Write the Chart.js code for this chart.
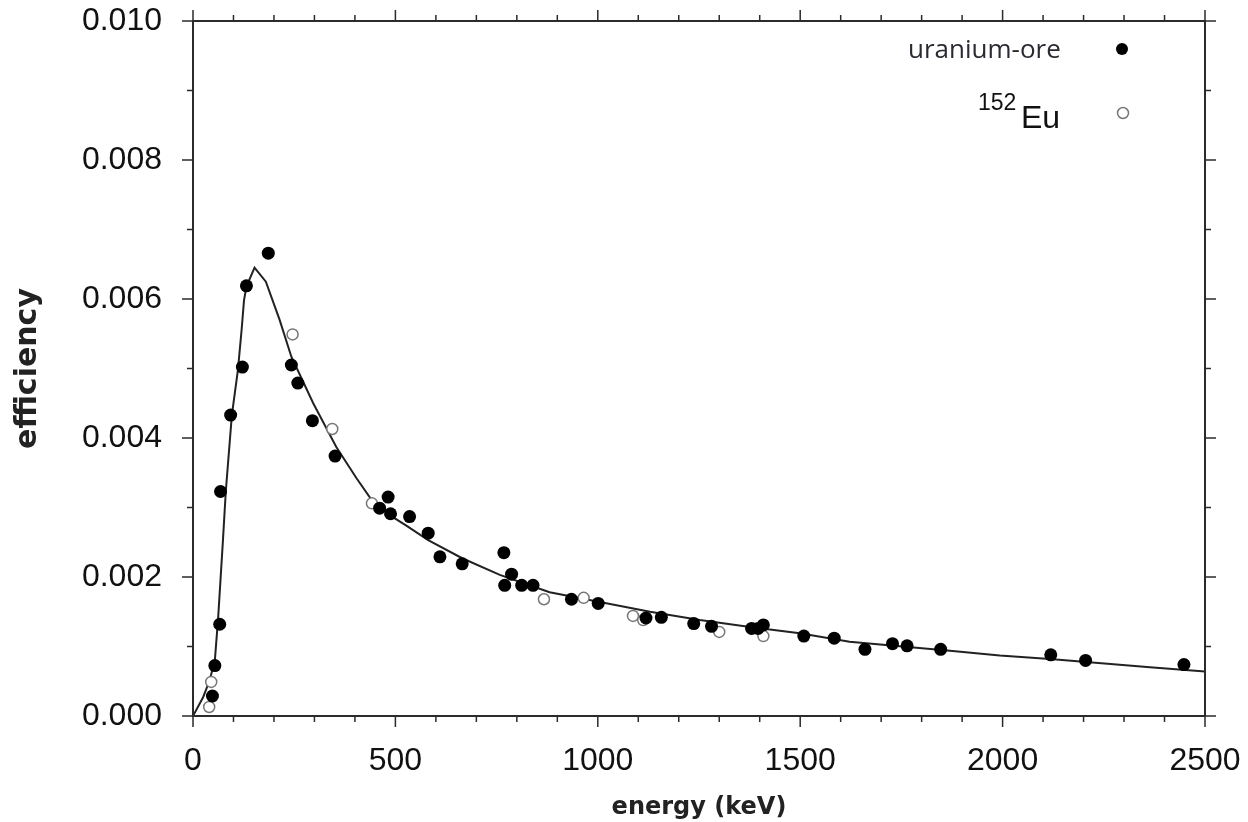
<!DOCTYPE html>
<html>
<head>
<meta charset="utf-8">
<title>efficiency vs energy</title>
<script src="https://cdn.jsdelivr.net/npm/chart.js@4.4.1/dist/chart.umd.min.js"></script>
<style>
  html, body { margin: 0; padding: 0; background: #fff; }
  #wrap { width: 1248px; height: 822px; }
</style>
</head>
<body>
<div id="wrap"><canvas id="effChart" width="1248" height="822"></canvas></div>
<script>
// uranium-ore lines (filled dots)
const uraniumEnergy = [48, 54, 66, 68, 93, 122, 132, 186, 243, 259, 295, 351, 461, 482, 488, 535, 581, 610, 665, 768,
  770, 787, 812, 840, 935, 1001, 1119, 1157, 1237, 1281, 1380, 1396, 1409, 1509, 1584, 1660, 1728, 1764, 1847, 2119,
  2205, 2448];
const uraniumEff = [0.000288, 0.000725, 0.00132, 0.00323, 0.00433, 0.00502, 0.00619, 0.00666, 0.00505, 0.00479,
  0.00425, 0.00374, 0.00299, 0.00315, 0.00291, 0.00287, 0.00263, 0.00229, 0.00219, 0.00235,
  0.00188, 0.00204, 0.00188, 0.00188, 0.00168, 0.00162, 0.00141, 0.00142, 0.00133, 0.00129,
  0.00126, 0.00126, 0.00131, 0.00115, 0.00112, 0.00096, 0.00104, 0.00101, 0.00096, 0.00088,
  0.00080, 0.00074];

// 152Eu lines (open circles)
const euEnergy = [40, 45, 246, 344, 442, 867, 965, 1087, 1112, 1300, 1409];
const euEff = [0.00013, 0.00049, 0.00549, 0.00413, 0.00306, 0.00168, 0.00170, 0.00144, 0.00138, 0.00121, 0.00115];

// fitted efficiency curve
const fitEnergy = [0, 25, 41, 54, 62, 74, 81, 96, 111, 120, 126, 132, 152, 180, 214, 243, 297, 354, 404, 441,
  486, 527, 581, 665, 758, 881, 1005, 1129, 1252, 1376, 1499, 1622, 1870, 1993, 2117, 2364, 2500];
const fitEff = [0, 0.00027, 0.00051, 0.0008, 0.0014, 0.00253, 0.00323, 0.00433, 0.00498, 0.00555,
  0.00598, 0.00618, 0.00645, 0.00625, 0.0057, 0.00517, 0.0045, 0.00387, 0.00342, 0.00311,
  0.00289, 0.00274, 0.00253, 0.00227, 0.00203, 0.00178, 0.00164, 0.0015, 0.00138, 0.00128,
  0.00119, 0.00107, 0.00094, 0.00087, 0.00082, 0.0007, 0.00064];

const xMax = 2500;
const yMax = 0.010;

function toPoints(xs, ys) {
  return xs.map((x, i) => ({ x, y: ys[i] }));
}

// box round the plot + outward ticks on all four sides
const frameTicks = {
  id: "frameTicks",
  afterDraw(chart) {
    const { ctx, chartArea: a, scales } = chart;
    const sx = scales.x, sy = scales.y;
    ctx.save();
    ctx.strokeStyle = "#2b2b2b";
    ctx.lineWidth = 2;
    ctx.strokeRect(a.left, a.top, a.right - a.left, a.bottom - a.top);
    ctx.lineWidth = 1.5;
    ctx.beginPath();
    for (let i = 0; i <= 25; i++) {
      const px = sx.getPixelForValue(i * 100);
      const len = i % 5 === 0 ? 11 : 6;
      ctx.moveTo(px, a.bottom); ctx.lineTo(px, a.bottom + len);
      ctx.moveTo(px, a.top); ctx.lineTo(px, a.top - len);
    }
    for (let i = 0; i <= 10; i++) {
      const py = sy.getPixelForValue(i * 0.001);
      const len = i % 2 === 0 ? 11 : 6;
      ctx.moveTo(a.left, py); ctx.lineTo(a.left - len, py);
      ctx.moveTo(a.right, py); ctx.lineTo(a.right + len, py);
    }
    ctx.stroke();
    ctx.restore();
  },
};

// legend in the top right corner, with 152 as superscript
const cornerLegend = {
  id: "cornerLegend",
  afterDraw(chart) {
    const { ctx } = chart;
    ctx.save();
    ctx.textBaseline = "alphabetic";
    ctx.textAlign = "left";
    ctx.fillStyle = "#2a2a33";
    ctx.font = "26px 'Open Sans'";
    ctx.fillText("uranium-ore", 908, 58);
    ctx.beginPath();
    ctx.arc(1122, 49, 6, 0, Math.PI * 2);
    ctx.fillStyle = "#000";
    ctx.fill();

    ctx.fillStyle = "#111";
    ctx.font = "23px 'Liberation Sans'";
    ctx.fillText("152", 978, 110);
    ctx.font = "32px 'Liberation Sans'";
    ctx.fillText("Eu", 1021, 128);
    ctx.beginPath();
    ctx.arc(1123, 113, 5.5, 0, Math.PI * 2);
    ctx.fillStyle = "#fff";
    ctx.fill();
    ctx.strokeStyle = "#777";
    ctx.lineWidth = 1.5;
    ctx.stroke();
    ctx.restore();
  },
};

const tickFont = { family: "'Liberation Sans', Arial, sans-serif", size: 32 };

new Chart(document.getElementById("effChart"), {
  type: "scatter",
  data: {
    datasets: [
      {
        label: "uranium-ore",
        data: toPoints(uraniumEnergy, uraniumEff),
        pointRadius: 6.5,
        pointBackgroundColor: "#000",
        pointBorderColor: "#000",
        pointBorderWidth: 0,
        order: 1,
      },
      {
        label: "152Eu",
        data: toPoints(euEnergy, euEff),
        pointRadius: 5.5,
        pointBackgroundColor: "#fff",
        pointBorderColor: "#777",
        pointBorderWidth: 1.5,
        order: 2,
      },
      {
        label: "fit",
        data: toPoints(fitEnergy, fitEff),
        showLine: true,
        pointRadius: 0,
        borderColor: "#222",
        borderWidth: 2,
        tension: 0,
        order: 3,
      },
    ],
  },
  options: {
    responsive: false,
    animation: false,
    events: [],
    layout: { padding: { top: 21, right: 43, left: 0, bottom: 0 } },
    plugins: { legend: { display: false }, tooltip: { enabled: false } },
    scales: {
      x: {
        type: "linear",
        min: 0,
        max: xMax,
        grid: { display: false, drawTicks: false },
        border: { display: false },
        ticks: {
          stepSize: 500,
          padding: 26,
          color: "#111",
          font: tickFont,
          maxRotation: 0,
          callback: (v) => String(v),
        },
        title: {
          display: true,
          text: "energy (keV)",
          color: "#222",
          font: { family: "'DejaVu Sans', sans-serif", size: 24, weight: "bold" },
          padding: { top: 0, bottom: 0 },
        },
        afterFit: (scale) => {
          scale.height = 106;
          scale.paddingLeft = 0;
          scale.paddingRight = 0;
        },
      },
      y: {
        type: "linear",
        min: 0,
        max: yMax,
        grid: { display: false, drawTicks: false },
        border: { display: false },
        ticks: {
          stepSize: 0.002,
          padding: 31,
          color: "#111",
          font: tickFont,
          callback: (v) => Number(v).toFixed(3),
        },
        title: {
          display: true,
          text: "efficiency",
          color: "#222",
          font: { family: "'DejaVu Sans', sans-serif", size: 30, weight: "bold" },
          padding: { top: 10, bottom: 0 },
        },
        afterFit: (scale) => {
          scale.width = 193;
          scale.paddingTop = 0;
          scale.paddingBottom = 0;
        },
      },
    },
  },
  plugins: [frameTicks, cornerLegend],
});
</script>
</body>
</html>
